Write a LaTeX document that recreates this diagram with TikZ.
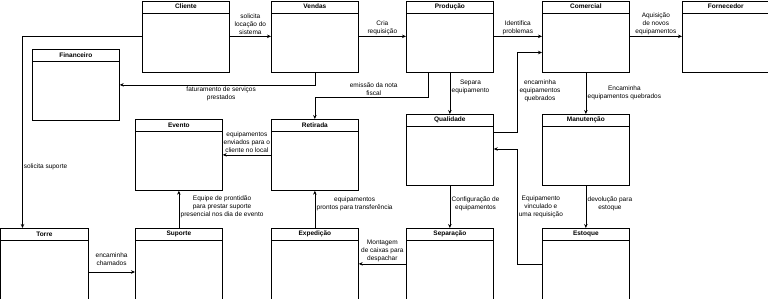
\documentclass[tikz,border=0pt]{standalone}
\usepackage{fontspec}
\setmainfont{Liberation Sans}
\usetikzlibrary{arrows.meta}

\begin{document}
\begin{tikzpicture}[x=1pt, y=-1pt, font=\fontsize{6.5}{8}\selectfont, line width=0.7pt, >={Stealth[length=4pt,width=3.5pt]}]
  \tikzset{lane/.style={draw, anchor=north west, minimum width=87pt, minimum height=71pt, inner sep=0pt, path picture={\draw ([yshift=-12pt]path picture bounding box.north west) -- ([yshift=-12pt]path picture bounding box.north east);}, label={[font=\fontsize{6.5}{8}\selectfont\bfseries, anchor=center, yshift=-6pt]north:#1}}, lbl/.style={align=center, inner sep=1.5pt}}
  \clip (0,0) rectangle (768,298);
  \node[lane=Cliente] (cliente) at (142,0.5) {};
  \node[lane=Vendas] (vendas) at (271,0.5) {};
  \node[lane=Produção] (producao) at (406,0.5) {};
  \node[lane=Comercial] (comercial) at (542,0.5) {};
  \node[lane=Fornecedor] (fornecedor) at (682,0.5) {};
  \node[lane=Financeiro] (financeiro) at (32,49) {};
  \node[lane=Evento] (evento) at (135,119) {};
  \node[lane=Retirada] (retirada) at (271,119) {};
  \node[lane=Qualidade] (qualidade) at (406,114) {};
  \node[lane=Manutenção] (manutencao) at (542,114) {};
  \node[lane=Torre] (torre) at (0.5,228) {};
  \node[lane=Suporte] (suporte) at (135,228) {};
  \node[lane=Expedição] (expedicao) at (271,228) {};
  \node[lane=Separação] (separacao) at (406,228) {};
  \node[lane=Estoque] (estoque) at (542,228) {};
  \draw[->] (cliente) -- node[lbl, above]{solicita\\locação do\\sistema} (vendas);
  \draw[->] (vendas) -- node[lbl, above]{Cria\\requisição} (producao);
  \draw[->] (producao) -- node[lbl, above]{Identifica\\problemas} (comercial);
  \draw[->] (comercial) -- node[lbl, above]{Aquisição\\de novos\\equipamentos} (fornecedor);
  \draw[->] (cliente.west) -| node[lbl, pos=0.84, right, inner sep=1pt]{solicita suporte} ([xshift=22pt]torre.north west);
  \draw[->] (vendas.south) |- node[lbl, pos=0.74, below]{faturamento de serviços\\prestados} (financeiro.east);
  \draw[->] ([xshift=22pt]producao.south west) -- ++(0,25) -| node[lbl, pos=0.24, above]{emissão da nota\\fiscal} (retirada.north);
  \draw[->] (producao) -- node[lbl, pos=0.35, right]{Separa\\equipamento} (qualidade);
  \draw[->] ([yshift=-18pt]qualidade.north east) -- ++(24,0) |- node[lbl, pos=0.26, right]{encaminha\\equipamentos\\quebrados} ([yshift=-52pt]comercial.north west);
  \draw[->] (comercial) -- node[lbl, midway, right]{Encaminha\\equipamentos quebrados} (manutencao);
  \draw[->] (manutencao) -- node[lbl, pos=0.43, right]{devolução para\\estoque} (estoque);
  \draw[->] (estoque.west) -- ++(-25,0) |- node[lbl, pos=0.25, right]{Equipamento\\vinculado e\\uma requisição} ([yshift=-35pt]qualidade.north east);
  \draw[->] (qualidade) -- node[lbl, pos=0.43, right]{Configuração de\\equipamentos} (separacao);
  \draw[->] (separacao) -- node[lbl, above]{Montagem\\de caixas para\\despachar} (expedicao);
  \draw[->] (expedicao) -- node[lbl, pos=0.65, right]{equipamentos\\prontos para transferência} (retirada);
  \draw[->] (retirada) -- node[lbl, above]{equipamentos\\enviados para o\\cliente no local} (evento);
  \draw[->] (suporte) -- node[lbl, pos=0.57, right]{Equipe de prontidão\\para prestar suporte\\presencial nos dia de evento} (evento);
  \draw[->] ([yshift=-44pt]torre.north east) -- node[lbl, above=5pt]{encaminha\\chamados} ([yshift=-44pt]suporte.north west);
\end{tikzpicture}
\end{document}
